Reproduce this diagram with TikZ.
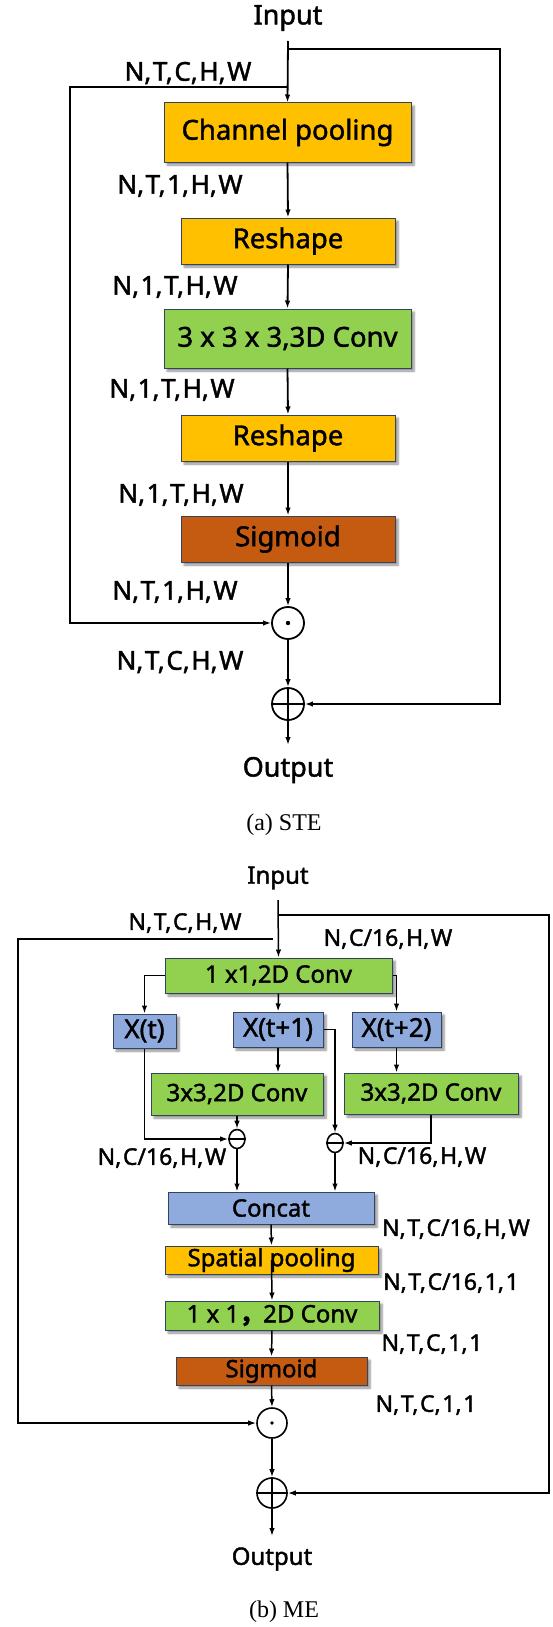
\documentclass[tikz,border=0pt]{standalone}
\usepackage{fontspec}
\setmainfont{Noto Sans}[BoldFont={Noto Sans}, BoldFeatures={FakeBold=1.6}]
\newfontfamily\capf{Liberation Serif}
\newfontfamily\cjk{Noto Sans CJK SC}[FakeBold=1.6]
\usetikzlibrary{arrows.meta,shadows.blur,shapes.geometric}
\definecolor{ylw}{HTML}{FFC000}
\definecolor{grn}{HTML}{92D050}
\definecolor{brn}{HTML}{C55A11}
\definecolor{blu}{HTML}{8FAADC}
\definecolor{edgec}{HTML}{34435E}
\newcommand\cma{,\kern1.6pt}
\tikzset{
  box/.style={draw=edgec, line width=1pt, inner sep=0pt,
    blur shadow={shadow xshift=3pt, shadow yshift=-3pt, shadow blur steps=6, shadow opacity=45}},
  fs/.style={font=\bfseries\fontsize{#1}{#1}\selectfont},
  lab/.style={inner sep=0pt, font=\bfseries\fontsize{#1}{#1}\selectfont},
  arr/.style={-{Latex[length=8pt,width=5.5pt]}},
  opnode/.style={circle, draw, inner sep=0pt, fill=white},
  minus/.style={ellipse, draw, inner sep=0pt, minimum width=16pt, minimum height=19pt, line width=1.6pt, fill=white},
  capt/.style={inner sep=0pt, font=\capf\fontsize{24}{24}\selectfont}
}
\begin{document}
\begin{tikzpicture}[x=1pt,y=-1pt]
\path[use as bounding box] (0,0) rectangle (552,1627);

% ================= (a) STE =================
\begin{scope}[line width=1.8pt]
\node[lab=27] (inA) at (288,18) {Input};
\coordinate (tA) at (288,41);
\coordinate (sA) at (288,49);
\coordinate (sB) at (288,87);
\coordinate (rA) at (500,49);
\coordinate (lA) at (70,87);
\node[box, fill=ylw, minimum width=247pt, minimum height=59pt, fs=27.5] (cp) at (287.5,132.5) {Channel pooling};
\node[box, fill=ylw, minimum width=214pt, minimum height=46pt, fs=27.5] (rs1) at (288,241) {Reshape};
\node[box, fill=grn, minimum width=247pt, minimum height=59pt, fs=27.5] (c3d) at (287.5,338.5) {3 x 3 x 3,3D Conv};
\node[box, fill=ylw, minimum width=214pt, minimum height=46pt, fs=27.5] (rs2) at (288,438) {Reshape};
\node[box, fill=brn, minimum width=214pt, minimum height=46pt, fs=27.5] (sgA) at (288,539) {Sigmoid};
\node[opnode, minimum size=32pt, line width=1.8pt] (odA) at (288,623) {};
\fill (odA.center) circle (2.2pt);
\node[opnode, minimum size=32pt, line width=1.8pt] (opA) at (288,704) {};
\draw[line width=1.8pt] (opA.north) -- (opA.south) (opA.west) -- (opA.east);
\coordinate (eA) at (288,745);
\node[lab=27] (outA) at (288,770) {Output};
\node[capt] (capA) at (284,825) {(a) STE};

\draw[arr] (tA) -- (cp.north);
\draw[arr] (cp.south) -- (rs1.north);
\draw[arr] (rs1.south) -- (c3d.north);
\draw[arr] (c3d.south) -- (rs2.north);
\draw[arr] (rs2.south) -- (sgA.north);
\draw[arr] (sgA.south) -- (odA.north);
\draw[arr] (odA.south) -- (opA.north);
\draw[arr] (opA.south) -- (eA);
\draw[arr] (sA) -- (rA) |- (opA.east);
\draw[arr] (sB) -- (lA) |- (odA.west);

\node[lab=26] (l1) at (188,73) {N\cma T\cma C\cma H\cma W};
\node[lab=26] (l2) at (180,186) {N\cma T\cma 1\cma H\cma W};
\node[lab=26] (l3) at (175,287) {N\cma 1\cma T\cma H\cma W};
\node[lab=26] (l4) at (172,390) {N\cma 1\cma T\cma H\cma W};
\node[lab=26] (l5) at (181,495) {N\cma 1\cma T\cma H\cma W};
\node[lab=26] (l6) at (175,592) {N\cma T\cma 1\cma H\cma W};
\node[lab=26] (l7) at (180,662) {N\cma T\cma C\cma H\cma W};
\end{scope}

% ================= (b) ME =================
\begin{scope}[line width=1.5pt]
\node[lab=24] (inB) at (278,878) {Input};
\coordinate (tB) at (278,900);
\coordinate (sC) at (278,915);
\coordinate (rB) at (549,915);
\coordinate (sD) at (273,939);
\coordinate (lB) at (18,939);
\node[box, fill=grn, minimum width=227pt, minimum height=35pt, fs=24] (c1) at (278.5,975.5) {1 x1,2D Conv};
\node[box, fill=blu, minimum width=63pt, minimum height=34pt, fs=26] (xt) at (144.5,1031) {X(t)};
\node[box, fill=blu, minimum width=90pt, minimum height=35pt, fs=26] (xt1) at (278,1029.5) {X(t+1)};
\node[box, fill=blu, minimum width=89pt, minimum height=35pt, fs=26] (xt2) at (396.5,1029.5) {X(t+2)};
\node[box, fill=grn, minimum width=172pt, minimum height=42pt, fs=24] (cva) at (237,1094) {3x3,2D Conv};
\node[box, fill=grn, minimum width=174pt, minimum height=41pt, fs=24] (cvb) at (431,1093.5) {3x3,2D Conv};
\node[minus] (m1) at (237,1139) {};
\draw[line width=1.6pt] (m1.west) -- (m1.east);
\node[minus] (m2) at (335,1143) {};
\draw[line width=1.6pt] (m2.west) -- (m2.east);
\node[box, fill=blu, minimum width=206pt, minimum height=32pt, fs=24] (cc) at (271,1208) {Concat};
\node[box, fill=ylw, minimum width=213pt, minimum height=28pt, fs=24] (sp) at (271.5,1260) {Spatial pooling};
\node[box, fill=grn, minimum width=214pt, minimum height=29pt, fs=24] (c11) at (272,1315.5) {1 x 1{\cjk\bfseries ，}2D Conv};
\node[box, fill=brn, minimum width=191pt, minimum height=28pt, fs=24] (sgB) at (271.5,1371) {Sigmoid};
\node[opnode, minimum size=30pt, line width=1.6pt] (odB) at (272,1423) {};
\fill (odB.center) circle (1.8pt);
\node[opnode, minimum size=30pt, line width=1.6pt] (opB) at (272,1493) {};
\draw[line width=1.6pt] (opB.north) -- (opB.south) (opB.west) -- (opB.east);
\coordinate (eB) at (272,1536);
\node[lab=24] (outB) at (272,1559) {Output};
\node[capt] (capB) at (284,1612) {(b) ME};

\draw[arr] (tB) -- (c1.north);
\draw[arr] (c1.west) -| (xt.north);
\draw[arr] (c1.south) -- (xt1.north);
\draw[arr] (c1.east) -| (xt2.north);
\draw[arr] (xt1.south) -- (xt1.south |- cva.north);
\draw[arr] (xt2.south) -- (xt2.south |- cvb.north);
\draw[arr] (cva.south) -- (m1.north);
\draw[arr] (xt.south) |- (m1.west);
\draw[arr] (xt1.east) -| (m2.north);
\draw[arr] (cvb.south) |- (m2.east);
\draw[arr] (m1.south) -- (m1.south |- cc.north);
\draw[arr] (m2.south) -- (m2.south |- cc.north);
\draw[arr] (cc.south) -- (sp.north);
\draw[arr] (sp.center) -- (c11.north);
\draw[arr] (c11.south) -- (sgB.north);
\draw[arr] (sgB.south) -- (odB.north);
\draw[arr] (odB.south) -- (opB.north);
\draw[arr] (opB.south) -- (eB);
\draw[arr] (sC) -- (rB) |- (opB.east);
\draw[arr] (sD) -- (lB) |- (odB.west);

\node[lab=23] (k1) at (185,923) {N\cma T\cma C\cma H\cma W};
\node[lab=23] (k2) at (388,939) {N\cma C/16\cma H\cma W};
\node[lab=23] (k3) at (162,1158) {N\cma C/16\cma H\cma W};
\node[lab=23] (k4) at (422,1157) {N\cma C/16\cma H\cma W};
\node[lab=23] (k5) at (456,1229) {N\cma T\cma C/16\cma H\cma W};
\node[lab=23] (k6) at (451,1283) {N\cma T\cma C/16\cma 1\cma 1};
\node[lab=23] (k7) at (432,1344) {N\cma T\cma C\cma 1\cma 1};
\node[lab=23] (k8) at (426,1405) {N\cma T\cma C\cma 1\cma 1};
\end{scope}
\end{tikzpicture}
\end{document}
